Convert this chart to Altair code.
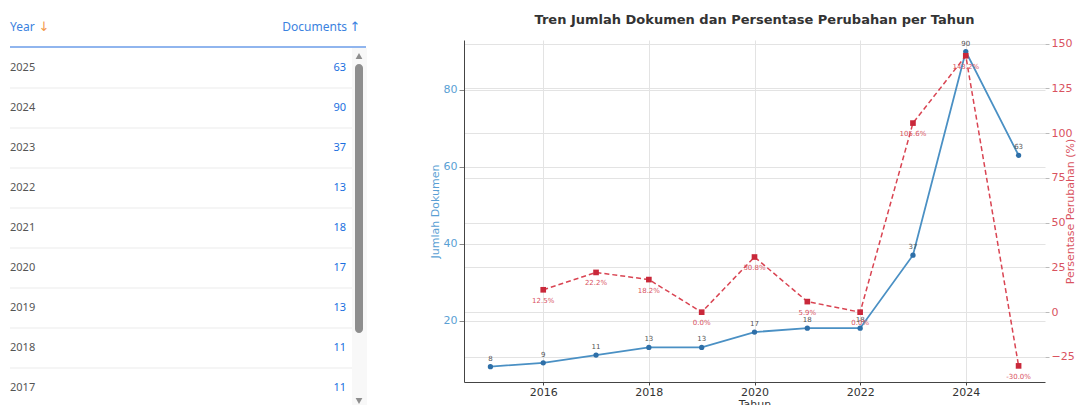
import altair as alt
import pandas as pd

# ---- table data (as shown in the list on the left) ----
table_years = [2025, 2024, 2023, 2022, 2021, 2020, 2019, 2018, 2017]
table_docs = [63, 90, 37, 13, 18, 17, 13, 11, 11]

# ---- chart data ----
years = [2015, 2016, 2017, 2018, 2019, 2020, 2021, 2022, 2023, 2024, 2025]
docs = [8, 9, 11, 13, 13, 17, 18, 18, 37, 90, 63]
pct_years = [2016, 2017, 2018, 2019, 2020, 2021, 2022, 2023, 2024, 2025]
pct = [12.5, 22.2, 18.2, 0.0, 30.8, 5.9, 0.0, 105.6, 143.2, -30.0]
pct_labels = ["12.5%", "22.2%", "18.2%", "0.0%", "30.8%", "5.9%", "0.0%",
              "105.6%", "143.2%", "-30.0%"]
x_ticks = [2016, 2018, 2020, 2022, 2024]
left_ticks = [20, 40, 60, 80]
right_ticks = [-25, 0, 25, 50, 75, 100, 125, 150]

TITLE = "Tren Jumlah Dokumen dan Persentase Perubahan per Tahun"

# ---------------- table panel ----------------
TW, TH = 358, 342
tdf = pd.DataFrame({"year": table_years, "docs": table_docs})
tdf["row"] = list(range(len(tdf)))
tdf["sep"] = tdf["row"] + 0.5
tdf["year_s"] = tdf["year"].astype(str)

yrow = alt.Scale(domain=[-0.7, TH / 40 - 0.7], reverse=True, nice=False, zero=False)
TFONT = "Noto Sans"

tbase = alt.Chart(tdf)
year_txt = tbase.mark_text(align="left", baseline="middle", fontSize=11,
                           font=TFONT, color="#555555").encode(
    x=alt.value(2), y=alt.Y("row:Q", scale=yrow, axis=None), text="year_s:N")
doc_txt = tbase.mark_text(align="right", baseline="middle", fontSize=11,
                          font=TFONT, color="#1a6fe0").encode(
    x=alt.value(338), y=alt.Y("row:Q", scale=yrow, axis=None), text="docs:Q")
seps = tbase.mark_rule(color="#ebebeb", strokeWidth=1).encode(
    x=alt.value(2), x2=alt.value(344), y=alt.Y("sep:Q", scale=yrow, axis=None))

hdr = pd.DataFrame({"row": [-1.03], "line": [-0.525]})
hbase = alt.Chart(hdr)
h_year = hbase.mark_text(align="left", baseline="middle", fontSize=12, font=TFONT,
                         color="#3b82e0", text="Year").encode(
    x=alt.value(2), y=alt.Y("row:Q", scale=yrow, axis=None))
h_arrow1 = hbase.mark_text(align="center", baseline="middle", fontSize=13, font="DejaVu Sans",
                           color="#f39a4c", text="\u2193").encode(
    x=alt.value(36), y=alt.Y("row:Q", scale=yrow, axis=None))
h_docs = hbase.mark_text(align="right", baseline="middle", fontSize=12, font=TFONT,
                         color="#3b82e0", text="Documents").encode(
    x=alt.value(339), y=alt.Y("row:Q", scale=yrow, axis=None))
h_arrow2 = hbase.mark_text(align="center", baseline="middle", fontSize=13, font="DejaVu Sans",
                           color="#3b82e0", text="\u2191").encode(
    x=alt.value(347), y=alt.Y("row:Q", scale=yrow, axis=None))
h_line = hbase.mark_rule(color="#6b9ce8", strokeWidth=1.5).encode(
    x=alt.value(2), x2=alt.value(358), y=alt.Y("line:Q", scale=yrow, axis=None))

dummy = pd.DataFrame({"a": [0]})
dbase = alt.Chart(dummy)
track = dbase.mark_rect(color="#f8f8f8").encode(
    x=alt.value(344), x2=alt.value(359), y=alt.value(8), y2=alt.value(365))
thumb = dbase.mark_rect(color="#8e8e8e", cornerRadius=4).encode(
    x=alt.value(347), x2=alt.value(355), y=alt.value(24), y2=alt.value(293))
up = dbase.mark_point(shape="triangle-up", filled=True, size=45, color="#8e8e8e", opacity=1).encode(
    x=alt.value(351), y=alt.value(16))
down = dbase.mark_point(shape="triangle-down", filled=True, size=45, color="#8e8e8e", opacity=1).encode(
    x=alt.value(351), y=alt.value(361))

table = alt.layer(track, thumb, up, down, seps, h_line, year_txt, doc_txt,
                  h_year, h_arrow1, h_docs, h_arrow2).properties(width=TW, height=TH)

# ---------------- dual-axis chart ----------------
CW, CH = 581, 342
ddf = pd.DataFrame({"year": years, "docs": docs})
pdf = pd.DataFrame({"year": pct_years, "pct": pct, "label": pct_labels})

BLUE_T = "#5a9fd4"
RED_T = "#d9535f"
GRID = "#e3e3e3"

xenc = alt.X("year:Q", scale=alt.Scale(domain=[2014.5, 2025.5], nice=False, zero=False),
             axis=alt.Axis(values=x_ticks, format="d", title="Tahun", labelFontSize=11,
                           labelColor="#333333", titleFontSize=11, titleFontWeight="normal",
                           titleColor="#333333", titlePadding=1, domainColor="#444444",
                           tickColor="#444444", tickSize=3, labelPadding=1,
                           grid=True, gridColor=GRID))
yl = alt.Y("docs:Q", scale=alt.Scale(domain=[4, 93], nice=False, zero=False),
           axis=alt.Axis(values=left_ticks, title="Jumlah Dokumen", labelFontSize=11,
                         labelColor=BLUE_T, titleColor=BLUE_T, titleFontSize=11,
                         titleFontWeight="normal", titlePadding=3, domainColor="#444444",
                         tickColor="#888888", tickSize=5, labelPadding=2,
                         grid=True, gridColor=GRID))
yr = alt.Y("pct:Q", scale=alt.Scale(domain=[-39, 152], nice=False, zero=False),
           axis=alt.Axis(values=right_ticks, orient="right", title="Persentase Perubahan (%)",
                         labelFontSize=11, labelColor=RED_T, titleColor=RED_T, titleFontSize=11,
                         titleFontWeight="normal", titlePadding=1, titleAngle=270,
                         domain=False, tickColor="#bbbbbb", tickSize=4, labelPadding=2,
                         grid=True, gridColor=GRID))

blue_line = alt.Chart(ddf).mark_line(
    color="#4a90c4", strokeWidth=1.8,
    point=alt.OverlayMarkDef(color="#2e6fa8", size=28, filled=True, opacity=1)
).encode(x=xenc, y=yl)
blue_txt = alt.Chart(ddf).mark_text(dy=-8, fontSize=7, color="#555555",
                                    font="DejaVu Sans").encode(x=xenc, y=yl, text="docs:Q")

red_line = alt.Chart(pdf).mark_line(
    color="#d94452", strokeWidth=1.5, strokeDash=[5, 3],
    point=alt.OverlayMarkDef(shape="square", color="#c9283a", size=32, filled=True, opacity=1)
).encode(x=xenc, y=yr)
red_txt = alt.Chart(pdf).mark_text(dy=11, fontSize=7, color=RED_T,
                                   font="DejaVu Sans").encode(x=xenc, y=yr, text="label:N")

chart = alt.layer(alt.layer(blue_line, blue_txt), alt.layer(red_line, red_txt)).resolve_scale(
    y="independent"
).properties(
    width=CW, height=CH,
    title=alt.TitleParams(TITLE, fontSize=13, font="DejaVu Sans", fontWeight="bold",
                          color="#333333", anchor="middle", offset=11),
)

full = alt.hconcat(table, chart, spacing=98, bounds="flush").properties(
    padding={"left": 0, "top": 5, "right": 0, "bottom": 0}
).configure_view(stroke=None).configure_axis(labelFont="DejaVu Sans", titleFont="DejaVu Sans")

full.save("out.html", embed_options={"renderer": "svg", "actions": False})
